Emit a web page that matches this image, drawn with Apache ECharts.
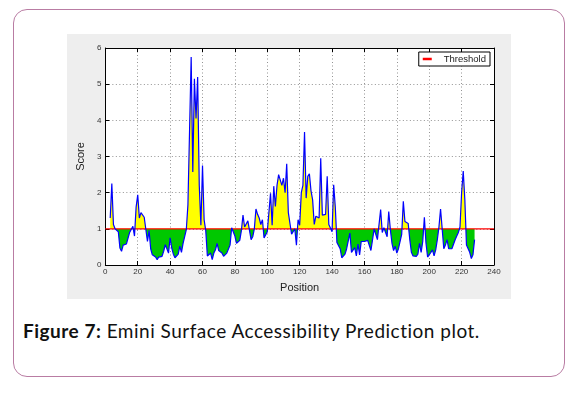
<!DOCTYPE html>
<html>
<head>
<meta charset="utf-8">
<script src="https://cdn.jsdelivr.net/npm/echarts@6/dist/echarts.min.js"></script>
<style>
  html, body { margin: 0; padding: 0; background: #ffffff; width: 578px; height: 394px; overflow: hidden; }
  #frame { position: absolute; left: 13px; top: 9px; width: 550px; height: 366px; border: 1.5px solid #b97ca3; border-radius: 14px; }
  #chart { position: absolute; left: 67px; top: 34px; width: 444px; height: 265px; }
  #caption { position: absolute; left: 23px; top: 321px; font-family: Lato, "Open Sans", sans-serif; font-size: 19px; letter-spacing: 0.5px; line-height: 20px; color: #111; white-space: nowrap; }
  #caption b { font-weight: 700; }
</style>
</head>
<body>
<div id="frame"></div>
<div id="chart"></div>
<div id="caption"><b>Figure 7:</b> Emini Surface Accessibility Prediction plot.</div>
<script>
// Positions (residue numbers) and Emini surface accessibility scores
const startPosition = 3;
const scores = [
  1.30, 2.25, 1.12, 1.00, 0.97, 0.92, 0.47, 0.38, 0.55, 0.58,   // 3-12
  0.58, 0.60, 0.90, 0.93, 1.07, 0.80, 1.60, 1.94, 1.30, 1.45,   // 13-22
  1.50, 1.32, 1.27, 0.65, 0.95, 0.45, 0.28, 0.24, 0.22, 0.15,   // 23-32
  0.22, 0.20, 0.24, 0.38, 0.56, 0.45, 0.33, 0.75, 0.47, 0.30,   // 33-42
  0.20, 0.25, 0.30, 0.52, 0.35, 0.60, 0.65, 0.98, 1.67, 1.68,   // 43-52
  5.75, 2.57, 5.15, 4.05, 5.20, 2.20, 1.10, 2.75, 1.25, 0.95,   // 53-62
  0.25, 0.20, 0.33, 0.15, 0.33, 0.42, 0.60, 0.40, 0.35, 0.33,   // 63-72
  0.24, 0.28, 0.33, 0.35, 0.55, 1.03, 1.00, 0.80, 0.60, 0.65,   // 73-82
  0.68, 0.95, 1.38, 1.05, 1.05, 1.22, 1.25, 0.70, 0.78, 1.00,   // 83-92
  1.55, 1.40, 1.30, 1.12, 1.25, 0.75, 0.80, 0.92, 0.90, 1.98,   // 93-102
  1.10, 2.18, 1.62, 2.20, 2.50, 2.50, 2.20, 2.40, 2.00, 2.80,   // 103-112
  1.45, 1.45, 0.85, 0.80, 1.00, 0.55, 1.25, 1.10, 2.00, 2.20,   // 113-122
  3.68, 1.85, 2.45, 2.52, 2.05, 1.80, 1.12, 1.35, 1.40, 1.30,   // 123-132
  2.95, 1.38, 1.38, 1.40, 2.45, 1.12, 1.15, 0.92, 2.22, 1.60,   // 133-142
  0.62, 0.62, 0.45, 0.20, 0.18, 0.30, 0.45, 0.50, 0.88, 0.35,   // 143-152
  0.30, 0.48, 0.25, 0.58, 0.28, 0.65, 0.70, 0.65, 0.70, 0.68,   // 153-162
  0.65, 0.40, 0.45, 1.00, 0.85, 0.70, 0.65, 1.53, 0.90, 1.03,   // 163-172
  1.02, 0.78, 1.48, 0.98, 0.60, 0.40, 0.52, 0.33, 0.45, 0.50,   // 173-182
  0.85, 1.76, 1.20, 1.22, 1.15, 0.70, 0.35, 0.25, 0.24, 0.24,   // 183-192
  0.30, 0.60, 0.35, 0.65, 1.32, 0.60, 0.22, 0.20, 0.35, 0.42,   // 193-202
  0.25, 0.42, 0.70, 1.05, 1.55, 1.00, 0.45, 0.55, 0.70, 0.45,   // 203-212
  0.48, 0.45, 0.48, 0.70, 0.80, 0.90, 1.05, 2.00, 2.60, 1.80,   // 213-222
  0.55, 0.58, 0.35, 0.18, 0.28, 0.70                            // 223-228
];
const threshold = 1;
const xTicks = { min: 0, max: 240, interval: 20 };
const yTicks = { min: 0, max: 6, interval: 1 };
const seriesNames = { threshold: 'Threshold' };
const axisNames = { x: 'Position', y: 'Score' };

const points = scores.map((v, i) => [startPosition + i, v]);
const thresholdLine = [[xTicks.min, threshold], [xTicks.max, threshold]];

const chart = echarts.init(document.getElementById('chart'), null, { renderer: 'canvas' });
const tickFont = { fontFamily: '"Liberation Sans Narrow", "Liberation Sans", sans-serif', fontSize: 8, color: '#333' };
const gridLine = { show: true, lineStyle: { color: '#777', width: 0.8, type: [1, 2.5] } };
const baseX = {
  type: 'value', min: xTicks.min, max: xTicks.max, interval: xTicks.interval,
  axisLine: { show: true, onZero: false, lineStyle: { color: '#000', width: 1 } },
  axisTick: { show: true, inside: true, length: 4, lineStyle: { color: '#000' } }
};
const baseY = {
  type: 'value', min: yTicks.min, max: yTicks.max, interval: yTicks.interval,
  axisLine: { show: true, onZero: false, lineStyle: { color: '#000', width: 1 } },
  axisTick: { show: true, inside: true, length: 4, lineStyle: { color: '#000' } }
};

chart.setOption({
  animation: false,
  backgroundColor: '#eeeeee',
  grid: { left: 32, top: 14, right: 17, bottom: 34, show: true, backgroundColor: '#ffffff', borderWidth: 0 },
  xAxis: [
    Object.assign({}, baseX, {
      position: 'bottom',
      axisLabel: Object.assign({ margin: 3 }, tickFont),
      splitLine: gridLine,
      name: axisNames.x, nameLocation: 'middle', nameGap: 17,
      nameTextStyle: { fontFamily: '"Liberation Sans Narrow", "Liberation Sans", sans-serif', fontSize: 11, color: '#222' }
    }),
    Object.assign({}, baseX, { position: 'top', axisLabel: { show: false }, splitLine: { show: false } })
  ],
  yAxis: [
    Object.assign({}, baseY, {
      position: 'left',
      axisLabel: Object.assign({ margin: 4 }, tickFont),
      splitLine: gridLine,
      name: axisNames.y, nameLocation: 'middle', nameGap: 16,
      nameTextStyle: { fontFamily: '"Liberation Sans Narrow", "Liberation Sans", sans-serif', fontSize: 11, color: '#222' }
    }),
    Object.assign({}, baseY, { position: 'right', axisLabel: { show: false }, splitLine: { show: false } })
  ],
  visualMap: {
    show: false, type: 'piecewise', seriesIndex: 0, dimension: 1,
    pieces: [
      { gt: threshold, lte: 100, color: '#ffff00' },
      { gte: -100, lte: threshold, color: '#00c800' }
    ]
  },
  legend: {
    data: [seriesNames.threshold],
    right: 21, top: 18,
    orient: 'vertical',
    backgroundColor: '#ffffff', borderColor: '#000', borderWidth: 1, borderRadius: 0,
    padding: [2, 4, 2, 4],
    icon: 'rect', itemWidth: 9, itemHeight: 2.5,
    textStyle: { fontFamily: '"Liberation Sans Narrow", "Liberation Sans", sans-serif', fontSize: 9.5, color: '#222', padding: [0, 0, 0, 7] }
  },
  series: [
    {
      name: 'area', type: 'line', data: points, symbol: 'none', silent: true,
      lineStyle: { opacity: 0, width: 0.01 },
      areaStyle: { origin: threshold, opacity: 1 },
      z: 2
    },
    {
      name: seriesNames.threshold, type: 'line', data: thresholdLine, symbol: 'none',
      itemStyle: { color: '#ff0000' },
      lineStyle: { color: '#ff0000', width: 1.3 },
      z: 3
    },
    {
      name: 'score', type: 'line', data: points, symbol: 'none',
      itemStyle: { color: '#0000ff' },
      lineStyle: { color: '#0000ff', width: 1.2 },
      z: 4
    }
  ]
});
</script>
</body>
</html>
